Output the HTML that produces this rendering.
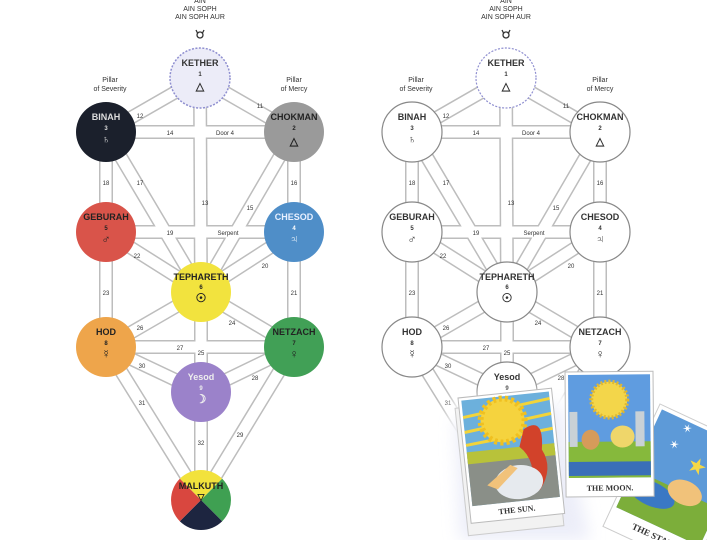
<!DOCTYPE html>
<html><head><meta charset="utf-8">
<style>
html,body{margin:0;padding:0;background:#fff;width:707px;height:540px;overflow:hidden;}
svg{display:block;font-family:"Liberation Sans",sans-serif;}
</style></head>
<body>
<svg width="707" height="540" viewBox="0 0 707 540" xmlns="http://www.w3.org/2000/svg" overflow="hidden">
<defs>
  <clipPath id="frame"><rect x="0" y="0" width="707" height="540"/></clipPath>
  <g id="paths">
    <g stroke-linecap="butt">
      <path d="M200 78L106 132M200 78L294 132M200 78L201 292M106 132L294 132M106 132L106 232M294 132L294 232M106 132L201 292M294 132L201 292M106 232L294 232M106 232L201 292M294 232L201 292M106 232L106 347M294 232L294 347M201 292L106 347M201 292L294 347M201 292L201 392M106 347L294 347M106 347L201 392M294 347L201 392M106 347L201 500M294 347L201 500M201 392L201 500" stroke="#bdbdbd" stroke-width="14" fill="none"/>
      <path d="M200 78L106 132M200 78L294 132M200 78L201 292M106 132L294 132M106 132L106 232M294 132L294 232M106 132L201 292M294 132L201 292M106 232L294 232M106 232L201 292M294 232L201 292M106 232L106 347M294 232L294 347M201 292L106 347M201 292L294 347M201 292L201 392M106 347L294 347M106 347L201 392M294 347L201 392M106 347L201 500M294 347L201 500M201 392L201 500" stroke="#fff" stroke-width="11" fill="none"/>
    </g>
    <g font-size="6" fill="#333" text-anchor="middle">
      <text x="140" y="118">12</text><text x="260" y="108">11</text>
      <text x="170" y="135">14</text><text x="225" y="135">Door 4</text>
      <text x="205" y="205">13</text><text x="106" y="185">18</text><text x="294" y="185">16</text>
      <text x="140" y="185">17</text><text x="250" y="210">15</text>
      <text x="170" y="235">19</text><text x="228" y="235">Serpent</text>
      <text x="137" y="258">22</text><text x="265" y="268">20</text>
      <text x="106" y="295">23</text><text x="294" y="295">21</text>
      <text x="140" y="330">26</text><text x="232" y="325">24</text>
      <text x="180" y="350">27</text><text x="201" y="355">25</text>
      <text x="142" y="368">30</text><text x="255" y="380">28</text>
      <text x="142" y="405">31</text><text x="240" y="437">29</text>
      <text x="201" y="445">32</text>
    </g>
  </g>
  <g id="aries" fill="none" stroke="#333" stroke-width="1.3">
    <circle cx="0" cy="2" r="3"/><path d="M-4 -3Q-3 -1 -2.5 0M4 -3Q3 -1 2.5 0"/>
  </g>
  <filter id="glow" x="-30%" y="-30%" width="160%" height="160%"><feGaussianBlur stdDeviation="8"/></filter>
</defs>

<g font-size="7" fill="#333" text-anchor="middle">
  <text x="200" y="3">AIN</text><text x="200" y="11">AIN SOPH</text><text x="200" y="19">AIN SOPH AUR</text>
  <text x="110" y="82">Pillar</text><text x="110" y="91">of Severity</text>
  <text x="294" y="82">Pillar</text><text x="294" y="91">of Mercy</text>
  <text x="506" y="3">AIN</text><text x="506" y="11">AIN SOPH</text><text x="506" y="19">AIN SOPH AUR</text>
  <text x="416" y="82">Pillar</text><text x="416" y="91">of Severity</text>
  <text x="600" y="82">Pillar</text><text x="600" y="91">of Mercy</text>
</g>
<use href="#aries" transform="translate(200,33)"/>
<use href="#aries" transform="translate(506,33)"/>

<use href="#paths"/>
<use href="#paths" transform="translate(306,0)"/>

<g font-weight="bold" text-anchor="middle">
  <circle cx="200" cy="78" r="30" fill="#ececf8" stroke="#8f8fd0" stroke-width="1.5" stroke-dasharray="2 1.5"/>
  <text x="200" y="66" font-size="9" fill="#333">KETHER</text><text x="200" y="76" font-size="6" fill="#333">1</text><text x="200" y="90" font-size="11" fill="#333">△</text>
  <circle cx="106" cy="132" r="30" fill="#1b202c"/>
  <text x="106" y="120" font-size="9" fill="#ddd">BINAH</text><text x="106" y="130" font-size="6" fill="#ddd">3</text><text x="106" y="143" font-size="11" fill="#ddd">♄</text>
  <circle cx="294" cy="132" r="30" fill="#9a9a9a"/>
  <text x="294" y="120" font-size="9" fill="#222">CHOKMAN</text><text x="294" y="130" font-size="6" fill="#222">2</text><text x="294" y="145" font-size="11" fill="#222">△</text>
  <circle cx="106" cy="232" r="30" fill="#d9544a"/>
  <text x="106" y="220" font-size="9" fill="#222">GEBURAH</text><text x="106" y="230" font-size="6" fill="#222">5</text><text x="106" y="243" font-size="12" fill="#222">♂</text>
  <circle cx="294" cy="232" r="30" fill="#4f8ec8"/>
  <text x="294" y="220" font-size="9" fill="#e8f0ff">CHESOD</text><text x="294" y="230" font-size="6" fill="#fff">4</text><text x="294" y="243" font-size="12" fill="#fff">♃</text>
  <circle cx="201" cy="292" r="30" fill="#f2e33e"/>
  <text x="201" y="280" font-size="9" fill="#222">TEPHARETH</text><text x="201" y="289" font-size="6" fill="#222">6</text><text x="201" y="302" font-size="12" fill="#222">☉</text>
  <circle cx="106" cy="347" r="30" fill="#eea54b"/>
  <text x="106" y="335" font-size="9" fill="#222">HOD</text><text x="106" y="345" font-size="6" fill="#222">8</text><text x="106" y="358" font-size="12" fill="#222">☿</text>
  <circle cx="294" cy="347" r="30" fill="#41a056"/>
  <text x="294" y="335" font-size="9" fill="#222">NETZACH</text><text x="294" y="345" font-size="6" fill="#222">7</text><text x="294" y="358" font-size="12" fill="#222">♀</text>
  <circle cx="201" cy="392" r="30" fill="#9b82ca"/>
  <text x="201" y="380" font-size="9" fill="#eee">Yesod</text><text x="201" y="390" font-size="6" fill="#eee">9</text><text x="201" y="403" font-size="12" fill="#eee">☽</text>
  <path d="M201 500L179.8 478.8A30 30 0 0 1 222.2 478.8Z" fill="#f2e23c"/>
  <path d="M201 500L222.2 478.8A30 30 0 0 1 222.2 521.2Z" fill="#3fa052"/>
  <path d="M201 500L222.2 521.2A30 30 0 0 1 179.8 521.2Z" fill="#1d2540"/>
  <path d="M201 500L179.8 521.2A30 30 0 0 1 179.8 478.8Z" fill="#d9473f"/>
  <text x="201" y="489" font-size="9" fill="#222">MALKUTH</text><text x="201" y="500" font-size="9" fill="#222">▽</text>
</g>

<g fill="#fff" stroke="#888" stroke-width="1.2">
  <circle cx="506" cy="78" r="30" stroke="#8f8fd0" stroke-dasharray="2 1.5"/>
  <circle cx="412" cy="132" r="30"/><circle cx="600" cy="132" r="30"/>
  <circle cx="412" cy="232" r="30"/><circle cx="600" cy="232" r="30"/>
  <circle cx="507" cy="292" r="30"/><circle cx="412" cy="347" r="30"/>
  <circle cx="600" cy="347" r="30"/><circle cx="507" cy="392" r="30"/>
</g>
<g font-weight="bold" text-anchor="middle" fill="#333">
  <text x="506" y="66" font-size="9">KETHER</text><text x="506" y="76" font-size="6">1</text><text x="506" y="90" font-size="11">△</text>
  <text x="412" y="120" font-size="9">BINAH</text><text x="412" y="130" font-size="6">3</text><text x="412" y="143" font-size="11">♄</text>
  <text x="600" y="120" font-size="9">CHOKMAN</text><text x="600" y="130" font-size="6">2</text><text x="600" y="145" font-size="11">△</text>
  <text x="412" y="220" font-size="9">GEBURAH</text><text x="412" y="230" font-size="6">5</text><text x="412" y="243" font-size="12">♂</text>
  <text x="600" y="220" font-size="9">CHESOD</text><text x="600" y="230" font-size="6">4</text><text x="600" y="243" font-size="12">♃</text>
  <text x="507" y="280" font-size="9">TEPHARETH</text><text x="507" y="289" font-size="6">6</text><text x="507" y="302" font-size="12">☉</text>
  <text x="412" y="335" font-size="9">HOD</text><text x="412" y="345" font-size="6">8</text><text x="412" y="358" font-size="12">☿</text>
  <text x="600" y="335" font-size="9">NETZACH</text><text x="600" y="345" font-size="6">7</text><text x="600" y="358" font-size="12">♀</text>
  <text x="507" y="380" font-size="9">Yesod</text><text x="507" y="390" font-size="6">9</text><text x="507" y="403" font-size="12">☽</text>
</g>

<g clip-path="url(#frame)">
<path d="M450 400L705 378L707 540L445 540Z" fill="#fff" filter="url(#glow)"/>
<path d="M455 420L560 405L590 540L460 540Z" fill="#e4e6f6" filter="url(#glow)" opacity="0.7"/>
<g transform="translate(660,404) rotate(25)">
  <rect x="0" y="0" width="100" height="135" fill="#fff" stroke="#ccc"/>
  <rect x="4" y="4" width="92" height="108" fill="#5d9ad8"/>
  <rect x="4" y="70" width="92" height="42" fill="#7cae3a"/>
  <ellipse cx="30" cy="85" rx="25" ry="12" fill="#3a78c4"/>
  <text x="30" y="15" font-size="12" fill="#fff">✶</text><text x="25" y="35" font-size="12" fill="#fff">✶</text>
  <text x="50" y="48" font-size="22" fill="#f6d845">★</text>
  <ellipse cx="60" cy="70" rx="18" ry="12" fill="#f1c27a"/>
  <text x="50" y="125" font-size="9" font-weight="bold" font-family="Liberation Serif" text-anchor="middle" fill="#333">THE STAR.</text>
</g>
<g transform="translate(565,372) rotate(-0.5)">
  <rect x="0" y="0" width="88" height="125" fill="#fff" stroke="#bbb"/>
  <rect x="3" y="3" width="82" height="103" fill="#5f9ce0"/>
  <rect x="3" y="70" width="82" height="36" fill="#86b93c"/>
  <rect x="3" y="90" width="82" height="14" fill="#3a6fb8"/>
  <rect x="4" y="40" width="8" height="35" fill="#c9d1d6"/><rect x="70" y="40" width="9" height="35" fill="#c9d1d6"/>
  <circle cx="44" cy="28" r="18" fill="#f3d64a" stroke="#e0b830" stroke-width="4" stroke-dasharray="2 2"/>
  <ellipse cx="25" cy="68" rx="9" ry="10" fill="#d69b5a"/><ellipse cx="57" cy="65" rx="12" ry="11" fill="#efd66a"/>
  <text x="44" y="119" font-size="8" font-weight="bold" font-family="Liberation Serif" text-anchor="middle" fill="#333">THE MOON.</text>
</g>
<g transform="translate(458,398) rotate(-6)">
  <rect x="-4" y="10" width="96" height="128" fill="#f2f2f2" stroke="#ccc"/>
  <rect x="0" y="0" width="94" height="126" fill="#fff" stroke="#bbb"/>
  <rect x="3" y="3" width="88" height="106" fill="#6cb0dc"/>
  <path d="M3 20L91 10M3 35L91 25M3 48L91 40" stroke="#f2d43a" stroke-width="3"/>
  <rect x="3" y="60" width="88" height="49" fill="#8a8f88"/>
  <rect x="3" y="55" width="88" height="12" fill="#b8c23a"/>
  <circle cx="42" cy="27" r="22" fill="#f5d33e" stroke="#f0c020" stroke-width="6" stroke-dasharray="3 3"/>
  <path d="M62 38Q84 26 78 60Q88 80 72 100L64 100Q72 70 56 55Z" fill="#d2422a"/>
  <ellipse cx="52" cy="90" rx="24" ry="17" fill="#e6eaee"/>
  <path d="M20 90L45 72L52 76L30 95Z" fill="#f1c27a"/>
  <text x="47" y="120" font-size="8" font-weight="bold" font-family="Liberation Serif" text-anchor="middle" fill="#333">THE SUN.</text>
</g>
</g>
</svg>
</body></html>
